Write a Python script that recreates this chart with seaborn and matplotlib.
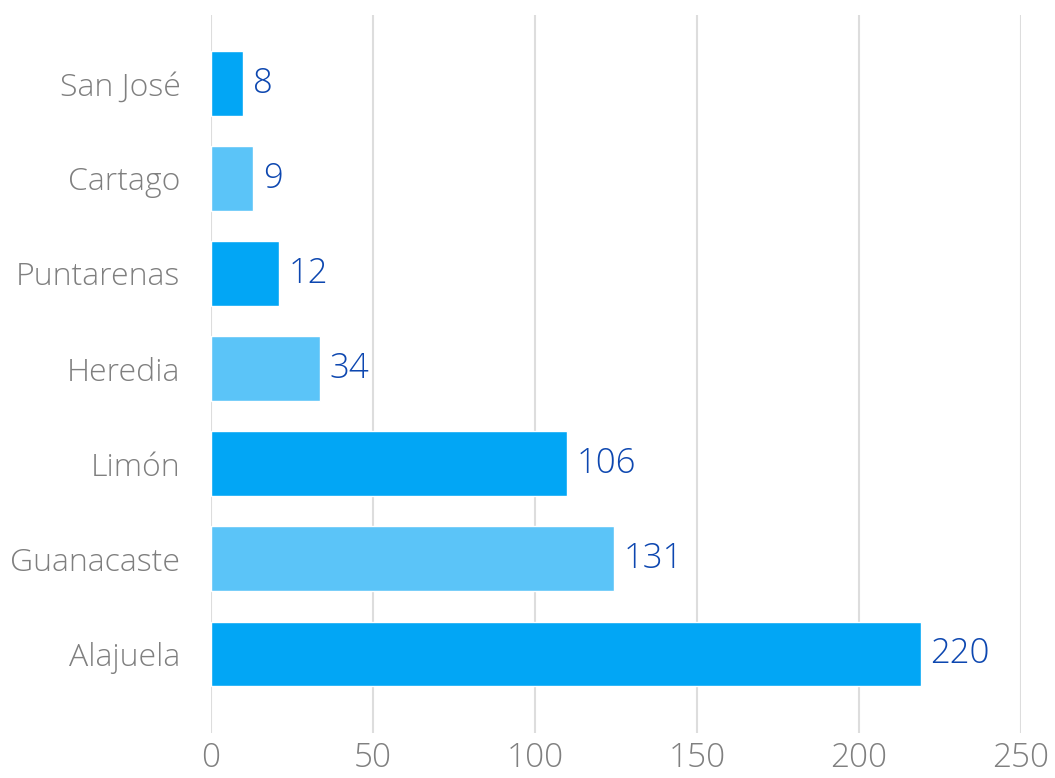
import matplotlib
matplotlib.use("Agg")
import matplotlib.pyplot as plt
import seaborn as sns
import pandas as pd

provinces = ['San José', 'Cartago', 'Puntarenas', 'Heredia', 'Limón', 'Guanacaste', 'Alajuela']
bar_lengths = [10, 13, 21, 33.5, 110, 124.5, 219]
value_labels = ['8', '9', '12', '34', '106', '131', '220']
colors = ['#02a6f5', '#5bc4f8', '#02a6f5', '#5bc4f8', '#02a6f5', '#5bc4f8', '#02a6f5']
xticks = [0, 50, 100, 150, 200, 250]

df = pd.DataFrame({'province': provinces, 'value': bar_lengths})

sns.set_style('white')
plt.rcParams['font.family'] = ['Open Sans', 'DejaVu Sans']
plt.rcParams['font.weight'] = 'light'

fig = plt.figure(figsize=(10.55, 7.78), dpi=100)
ax = fig.add_axes([0.2, 0.058, 0.7678, 0.923])

sns.barplot(data=df, x='value', y='province', hue='province', palette=colors,
            orient='h', width=0.68, legend=False, ax=ax, saturation=1)

for i, (v, lab) in enumerate(zip(bar_lengths, value_labels)):
    ax.annotate(lab, (v, i), xytext=(7, 0), textcoords='offset points',
                va='center', ha='left', fontsize=25, color='#0d47b0')

ax.set_xlim(0, 250)
ax.set_ylim(6.83, -0.72)
ax.set_xticks(xticks)
ax.set_xlabel('')
ax.set_ylabel('')
ax.grid(axis='x', color='#dddddd', linewidth=1.5)
ax.set_axisbelow(True)
for s in ax.spines.values():
    s.set_visible(False)
ax.tick_params(axis='x', length=0, labelsize=24, labelcolor='#808080', pad=6)
ax.tick_params(axis='y', length=0, labelsize=23, labelcolor='#7f7f7f', pad=22)

fig.savefig('out.png', dpi=100)
